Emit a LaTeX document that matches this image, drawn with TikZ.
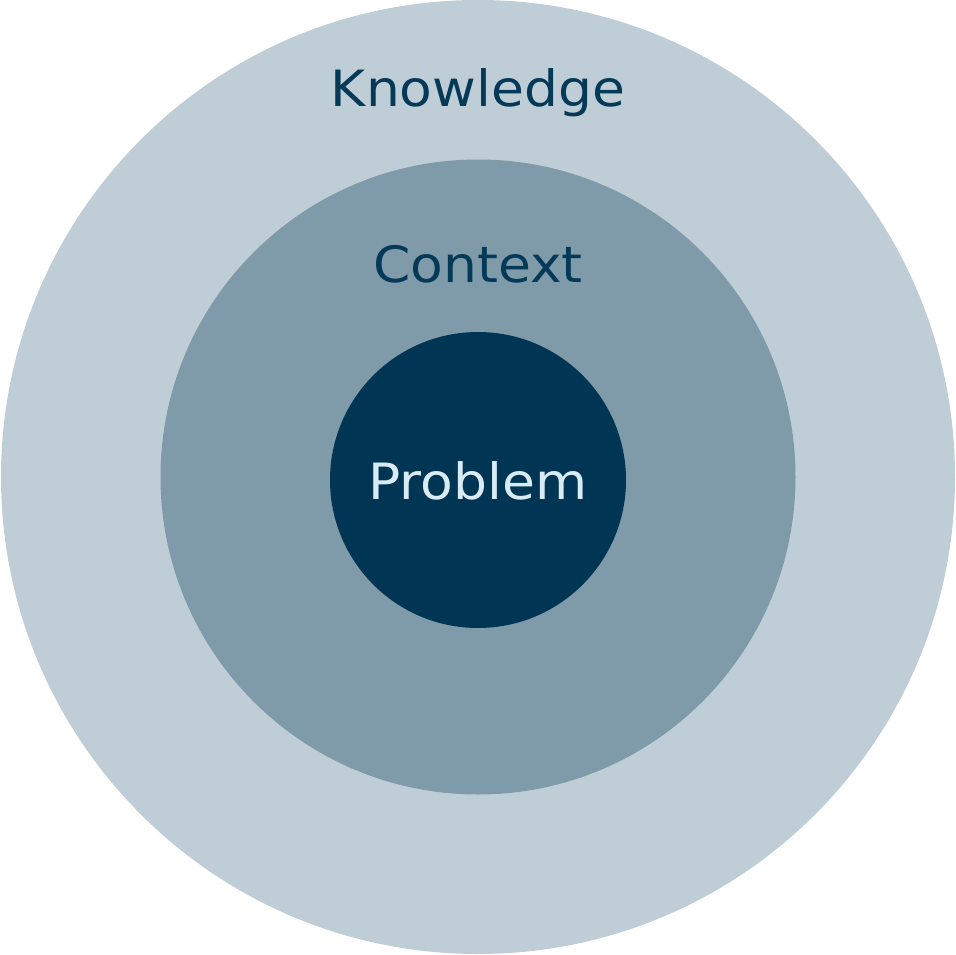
\documentclass[tikz,border=0pt]{standalone}
\usepackage{fontspec}
\setmainfont{DejaVu Sans}
\definecolor{outerc}{HTML}{BFCED6}
\definecolor{midc}{HTML}{7F9BA9}
\definecolor{innerc}{HTML}{003653}
\definecolor{darktext}{HTML}{043A58}
\definecolor{lighttext}{HTML}{D9EBF5}
\tikzset{
  ring/.style={circle, draw=none, inner sep=0pt},
  lbl/.style={anchor=base, inner sep=0pt, font=\fontsize{50}{60}\selectfont}
}
\begin{document}
\begin{tikzpicture}[x=1pt,y=-1pt]
\useasboundingbox (0,0) rectangle (956,955);
\node[ring, fill=outerc, minimum size=954pt] (outer) at (478,477) {};
\node[ring, fill=midc, minimum size=635pt] (middle) at (478,477) {};
\node[ring, fill=innerc, minimum size=296pt] (inner) at (478,480) {};
\node[lbl, text=darktext] (know) at (478,107) {\scalebox{1.07}[1]{Knowledge}};
\node[lbl, text=darktext] (ctx) at (478,282) {\scalebox{1.07}[1]{Context}};
\node[lbl, text=lighttext] (prob) at (478,499) {\scalebox{1.07}[1]{Problem}};
\end{tikzpicture}
\end{document}
